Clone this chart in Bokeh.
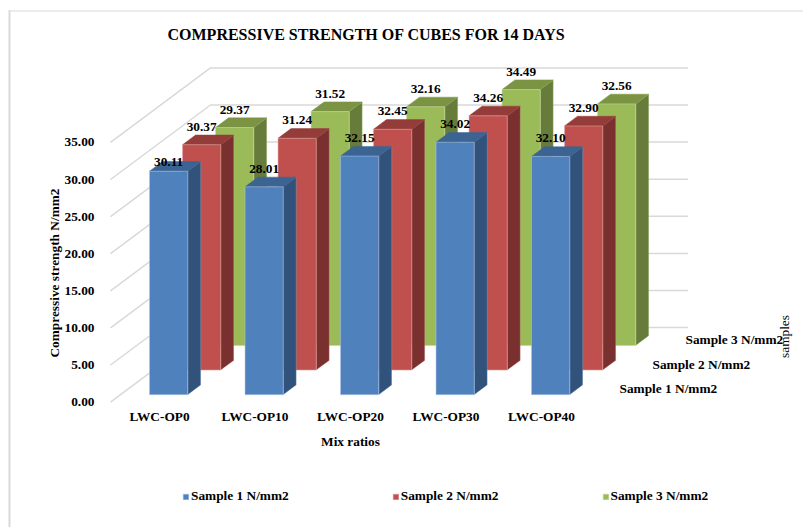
from bokeh.core.properties import value
from bokeh.embed import file_html
from bokeh.models import (BoxAnnotation, FixedTicker, Label, Legend, LegendItem,
                          NumeralTickFormatter, Range1d)
from bokeh.plotting import figure
from bokeh.resources import INLINE

# Compressive strength (N/mm2) at 14 days
categories = ["LWC-OP0", "LWC-OP10", "LWC-OP20", "LWC-OP30", "LWC-OP40"]
sample_names = ["Sample 1 N/mm2", "Sample 2 N/mm2", "Sample 3 N/mm2"]
sample_1 = [30.11, 28.01, 32.15, 34.02, 32.10]
sample_2 = [30.37, 31.24, 32.45, 34.26, 32.90]
sample_3 = [29.37, 31.52, 32.16, 34.49, 32.56]
strength_ticks = [0, 5, 10, 15, 20, 25, 30, 35]

# Oblique projection of the three-dimensional chart box
PX_PER_CAT = 95.5
PX_PER_UNIT = 7.42
ORIGIN_X, ORIGIN_Y = 110.0, 401.6
DEPTH_DX = 100.0 / PX_PER_CAT
DEPTH_DY = 74.5 / PX_PER_UNIT
BAR_OFFSET = 0.304
BAR_WIDTH = 0.4
BAR_DEPTH = 0.13
DEPTH_START = 0.1
DEPTH_STEP = 0.33
LABEL_RISE = 18.0 / PX_PER_UNIT

FONT = "Liberation Serif"
TEXT_SIZE = "13.33px"

front_colors = ["#4F81BD", "#C0504D", "#9BBB59"]
side_colors = ["#31527B", "#7A302E", "#677B3A"]
top_colors = ["#3B6493", "#943C3A", "#7A9443"]
edge_colors = ["#A9C4E4", "#E2A5A3", "#C6DA9C"]
GRID_COLOR = "#D9D9D9"
FRAME_COLOR = "#D9D9D9"


def project(x, v, d):
    return x + DEPTH_DX * d, v + DEPTH_DY * d


def page_x(px):
    return (px - ORIGIN_X) / PX_PER_CAT


def page_y(py):
    return (ORIGIN_Y - py) / PX_PER_UNIT


# The plotting frame fills the whole page; both axes are pinned inside it
WIDTH, HEIGHT = 803, 527
p = figure(
    width=WIDTH, height=HEIGHT, output_backend="svg", toolbar_location=None,
    frame_width=WIDTH, frame_height=HEIGHT, min_border=0,
    x_range=Range1d(page_x(0), page_x(WIDTH)),
    y_range=Range1d(page_y(HEIGHT), page_y(0)),
    background_fill_color="white", border_fill_color="white",
)
p.outline_line_color = None
p.grid.visible = False

# Axes
for ax in (p.xaxis[0], p.yaxis[0]):
    ax.fixed_location = 0
    ax.axis_line_color = None
    ax.major_tick_line_color = None
    ax.minor_tick_line_color = None
    ax.major_label_text_font = FONT
    ax.major_label_text_font_style = "bold"
    ax.major_label_text_font_size = TEXT_SIZE
    ax.major_label_text_color = "black"

p.yaxis[0].ticker = FixedTicker(ticks=strength_ticks)
p.yaxis[0].formatter = NumeralTickFormatter(format="0.00")
p.yaxis[0].major_label_standoff = 10

cat_ticks = [round(i + 0.513, 3) for i in range(len(categories))]
p.xaxis[0].ticker = FixedTicker(ticks=cat_ticks)
p.xaxis[0].major_label_overrides = dict(zip(cat_ticks, categories))
p.xaxis[0].major_label_standoff = 1

# Side wall and back wall gridlines
grid_xs, grid_ys = [], []
n_cats = len(categories)
for t in strength_ticks:
    x0, y0 = project(0, t, 0)
    x1, y1 = project(0, t, 1)
    x2, y2 = project(n_cats, t, 1)
    grid_xs.append([x0, x1, x2])
    grid_ys.append([y0, y1, y2])
p.multi_line(grid_xs, grid_ys, line_color=GRID_COLOR, line_width=1.5)

# Bars, painted from the rear row to the front row
series = [sample_1, sample_2, sample_3]
legend_renderers = {}
for s in (2, 1, 0):
    d0 = DEPTH_START + DEPTH_STEP * s
    d1 = d0 + BAR_DEPTH
    side_x, side_y, top_x, top_y, front_x, front_y = [], [], [], [], [], []
    for i, v in enumerate(series[s]):
        left = i + BAR_OFFSET
        right = left + BAR_WIDTH
        fl, fb = project(left, 0, d0)
        fr, ft = project(right, v, d0)
        front_x.append([fl, fr, fr, fl])
        front_y.append([fb, fb, ft, ft])

        br, bb = project(right, 0, d1)
        _, bt = project(right, v, d1)
        side_x.append([fr, br, br, fr])
        side_y.append([fb, bb, bt, ft])

        bl, _ = project(left, v, d1)
        top_x.append([fl, fr, br, bl])
        top_y.append([ft, ft, bt, bt])
    p.patches(side_x, side_y, fill_color=side_colors[s], line_color=edge_colors[s],
              line_width=0.7, line_alpha=0.4)
    p.patches(top_x, top_y, fill_color=top_colors[s], line_color=top_colors[s],
              line_width=0.5)
    legend_renderers[s] = p.patches(front_x, front_y, fill_color=front_colors[s],
                                    line_color=edge_colors[s], line_width=0.8,
                                    line_alpha=0.7)

# Value labels above each bar; the first Sample 1 label sits lower on its bar
label_x, label_y, label_text = [], [], []
for s in (2, 1, 0):
    for i, v in enumerate(series[s]):
        x, y = project(i + BAR_OFFSET + BAR_WIDTH / 2, v, DEPTH_START + DEPTH_STEP * s)
        rise = LABEL_RISE / 2 if (s == 0 and i == 0) else LABEL_RISE
        label_x.append(x)
        label_y.append(y + rise)
        label_text.append(f"{v:.2f}")
p.text(label_x, label_y, label_text, text_font=value(FONT), text_font_style="bold",
       text_font_size=value(TEXT_SIZE), text_align="center", text_baseline="middle",
       text_color="black")

# Depth axis names along the floor edge
depth_x, depth_y = [], []
for s in range(3):
    x, y = project(n_cats, 0, DEPTH_START + BAR_DEPTH / 2 + DEPTH_STEP * s)
    depth_x.append(x)
    depth_y.append(y)
p.text(depth_x, depth_y, sample_names, x_offset=15, y_offset=-1, text_font=value(FONT),
       text_font_style="bold", text_font_size=value(TEXT_SIZE), text_align="left",
       text_baseline="middle", text_color="black")

# Chart title and axis titles
p.add_layout(Label(x=page_x(167), y=page_y(34), text="COMPRESSIVE STRENGTH OF CUBES FOR 14 DAYS",
                   text_font=FONT, text_font_style="bold", text_font_size="16px",
                   text_align="left", text_baseline="middle", text_color="black"))
p.add_layout(Label(x=page_x(54), y=page_y(272.5), text="Compressive strength N/mm2",
                   angle=90, angle_units="deg", text_font=FONT, text_font_style="bold",
                   text_font_size=TEXT_SIZE, text_align="center", text_baseline="middle",
                   text_color="black"))
p.add_layout(Label(x=page_x(350), y=page_y(440.7), text="Mix ratios", text_font=FONT,
                   text_font_style="bold", text_font_size=TEXT_SIZE, text_align="center",
                   text_baseline="middle", text_color="black"))
p.add_layout(Label(x=page_x(784), y=page_y(336), text="samples", angle=90, angle_units="deg",
                   text_font=FONT, text_font_size=TEXT_SIZE, text_align="center",
                   text_baseline="middle", text_color="black"))

# Chart area border on the left and top
p.add_layout(BoxAnnotation(left=page_x(8), right=page_x(10), top=page_y(10), bottom=page_y(HEIGHT),
                           fill_color=FRAME_COLOR, fill_alpha=1, line_color=None))
p.add_layout(BoxAnnotation(left=page_x(8), right=page_x(WIDTH), top=page_y(10), bottom=page_y(11),
                           fill_color=FRAME_COLOR, fill_alpha=1, line_color=None))

legend = Legend(
    items=[LegendItem(label=sample_names[s], renderers=[legend_renderers[s]]) for s in range(3)],
    orientation="horizontal", location=(182, 23), margin=0, padding=0, spacing=103,
    glyph_width=7, glyph_height=7, label_standoff=2, border_line_color=None,
    background_fill_alpha=0, label_text_font=FONT, label_text_font_style="bold",
    label_text_font_size=TEXT_SIZE, label_text_color="black", label_height=14,
)
p.add_layout(legend)

open("out.html", "w").write(file_html(p, INLINE))
